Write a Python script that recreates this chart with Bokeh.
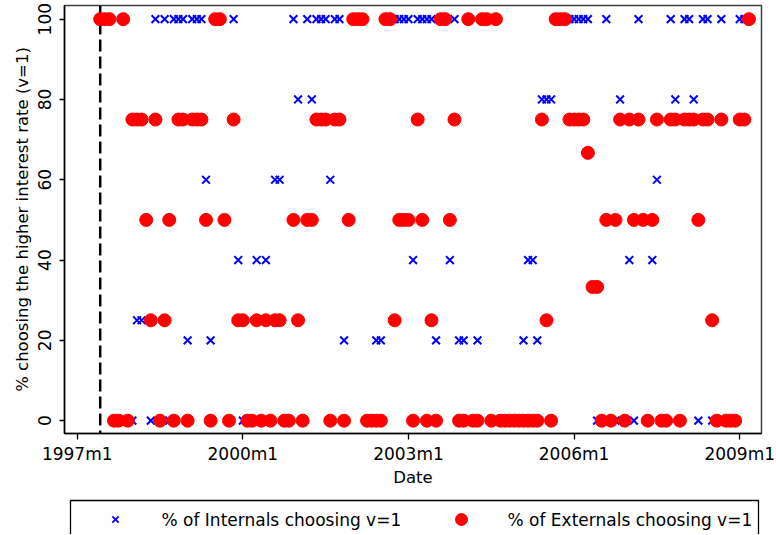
from bokeh.plotting import figure
from bokeh.models import FixedTicker, Span, Range1d
from bokeh.layouts import column
from bokeh.embed import file_html
from bokeh.resources import INLINE
from bokeh.core.properties import value

# ---------------- data (monthly, Stata %tm style dates) ----------------
dates = [
    "1997m6", "1997m7", "1997m8", "1997m9", "1997m10", "1997m11", "1997m12",
    "1998m1", "1998m2", "1998m3", "1998m4", "1998m5", "1998m6", "1998m7", "1998m8", "1998m9", "1998m10", "1998m11", "1998m12",
    "1999m1", "1999m2", "1999m3", "1999m4", "1999m5", "1999m6", "1999m7", "1999m8", "1999m9", "1999m10", "1999m11", "1999m12",
    "2000m1", "2000m2", "2000m3", "2000m4", "2000m5", "2000m6", "2000m7", "2000m8", "2000m9", "2000m10", "2000m11", "2000m12",
    "2001m1", "2001m2", "2001m3", "2001m4", "2001m5", "2001m6", "2001m7", "2001m8", "2001m9", "2001m10", "2001m11", "2001m12",
    "2002m1", "2002m2", "2002m3", "2002m4", "2002m5", "2002m6", "2002m7", "2002m8", "2002m9", "2002m10", "2002m11", "2002m12",
    "2003m1", "2003m2", "2003m3", "2003m4", "2003m5", "2003m6", "2003m7", "2003m8", "2003m9", "2003m10", "2003m11", "2003m12",
    "2004m1", "2004m2", "2004m3", "2004m4", "2004m5", "2004m6", "2004m7", "2004m8", "2004m9", "2004m10", "2004m11", "2004m12",
    "2005m1", "2005m2", "2005m3", "2005m4", "2005m5", "2005m6", "2005m7", "2005m8", "2005m9", "2005m10", "2005m11", "2005m12",
    "2006m1", "2006m2", "2006m3", "2006m4", "2006m5", "2006m6", "2006m7", "2006m8", "2006m9", "2006m10", "2006m11", "2006m12",
    "2007m1", "2007m2", "2007m3", "2007m4", "2007m5", "2007m6", "2007m7", "2007m8", "2007m9", "2007m10", "2007m11", "2007m12",
    "2008m1", "2008m2", "2008m3", "2008m4", "2008m5", "2008m6", "2008m7", "2008m8", "2008m9", "2008m10", "2008m11", "2008m12",
    "2009m1", "2009m2", "2009m3",
]

N = None
# % of Internals choosing v=1 (None = not visible / no observation)
internal_pct = [
    100, 100, 100, 0, 0, 100, 0,
    0, 25, 25, 50, 0, 100, 0, 100, 0, 100, 100, 100,
    20, 100, 100, 100, 60, 20, 100, 100, N, 0, 100, 40,
    0, 0, 0, 40, 0, 40, 0, 60, 60, 0, 0, 100,
    80, 0, 100, 80, 100, 100, 100, 60, 100, 100, 20, N,
    100, 100, 100, 0, 0, 20, 20, 100, 100, 100, 100, 100,
    100, 40, 100, 100, 100, 100, 20, 100, 100, 40, 100, 20,
    20, 100, 0, 20, 100, 100, 0, 100, 0, 0, 0, 0,
    0, 20, 40, 40, 20, 80, 80, 80, 100, 100, 100, 100,
    100, 100, 100, 100, N, 0, 0, 100, 0, 0, 80, 0,
    40, 0, 100, N, 0, 40, 60, 0, 0, 100, 80, 0,
    100, 100, 80, 0, 100, 100, 0, 0, 100, 0, 0, 0,
    100, 100, 100,
]

# % of Externals choosing v=1
external_pct = [
    100, 100, 100, 0, 0, 100, 0,
    75, 75, 75, 50, 25, 75, 0, 25, 50, 0, 75, 75,
    0, 75, 75, 75, 50, 0, 100, 100, 50, 0, 75, 25,
    25, 0, 0, 25, 0, 25, 0, 25, 25, 0, 0, 50,
    25, 0, 50, 50, 75, 75, 75, 0, 75, 75, 0, 50,
    100, 100, 100, 0, 0, 0, 0, 100, 100, 25, 50, 50,
    50, 0, 75, 50, 0, 25, 0, 100, 100, 50, 75, 0,
    0, 100, 0, 0, 100, 100, 0, 100, 0, 0, 0, 0,
    0, 0, 0, 0, 0, 75, 25, 0, 100, 100, 100, 75,
    75, 75, 75, 66.7, 33.3, 33.3, 0, 50, 0, 50, 75, 0,
    75, 50, 75, 50, 0, 50, 75, 0, 0, 75, 75, 0,
    75, 75, 75, 50, 75, 75, 25, 0, 75, 0, 0, 0,
    75, 75, 100,
]

policy_start = "1997m6"
x_ticks = ["1997m1", "2000m1", "2003m1", "2006m1", "2009m1"]
y_ticks = [0, 20, 40, 60, 80, 100]
legend_labels = ["% of Internals choosing v=1", "% of Externals choosing v=1"]

# ---------------- helpers ----------------
def tm(s):
    """Months since 1997m1 from a Stata-like 'YYYYmM' string."""
    y, m = s.split("m")
    return (int(y) - 1997) * 12 + int(m) - 1

xi = [tm(d) for d, v in zip(dates, internal_pct) if v is not None]
yi = [v for v in internal_pct if v is not None]
xe = [tm(d) for d in dates]
ye = external_pct

FONT = "DejaVu Sans"
FS = "17px"
TS = "16.5px"
BLUE = "#0000ff"
RED = "#ff0000"

p = figure(frame_width=697, frame_height=428, output_backend="svg", toolbar_location=None,
           x_range=Range1d(-2.76, 148.73), y_range=Range1d(-3.2, 103.4),
           min_border_left=64, min_border_right=14, min_border_top=5, min_border_bottom=59,
           background_fill_color="white", border_fill_color="white")
p.outline_line_color = "#404040"
p.outline_line_width = 1.5
p.grid.visible = False

p.add_layout(Span(location=tm(policy_start), dimension="height", line_color="black",
                  line_width=2.5, line_dash="12 5", level="underlay"))

p.scatter(xi, yi, marker="x", size=11, line_color=BLUE, line_width=2)
p.scatter(xe, ye, marker="circle", size=13, fill_color=RED, line_color=RED)

# axes
p.xaxis.ticker = FixedTicker(ticks=[tm(t) for t in x_ticks])
p.xaxis.major_label_overrides = {tm(t): t for t in x_ticks}
p.yaxis.ticker = FixedTicker(ticks=y_ticks)
p.yaxis.major_label_orientation = "vertical"
p.xaxis.axis_label = "Date"
p.yaxis.axis_label = "% choosing the higher interest rate (v=1)"
for ax in (p.xaxis, p.yaxis):
    ax.axis_line_color = "black"
    ax.axis_line_width = 1.5
    ax.major_tick_line_color = "black"
    ax.major_tick_line_width = 1.3
    ax.major_tick_in = 0
    ax.minor_tick_line_color = None
    ax.major_label_text_font = FONT
    ax.major_label_text_font_size = FS
    ax.major_label_text_color = "black"
    ax.axis_label_text_font = FONT
    ax.axis_label_text_font_size = TS
    ax.axis_label_text_font_style = "normal"
    ax.axis_label_text_color = "black"
p.xaxis.major_tick_out = 6
p.yaxis.major_tick_out = 5
p.xaxis.major_label_standoff = 4
p.yaxis.major_label_standoff = 8
p.xaxis.axis_label_standoff = 1
p.yaxis.axis_label_standoff = 4

# ---------------- legend strip (frame aligned with the plot frame; x in page pixels) ----------------
lg = figure(frame_width=697, frame_height=42, output_backend="svg", toolbar_location=None,
            x_range=Range1d(64, 761), y_range=Range1d(1, 43),
            x_axis_location=None, y_axis_location=None,
            min_border_left=64, min_border_right=14, min_border_top=0, min_border_bottom=0,
            background_fill_color="white", border_fill_color="white")
lg.outline_line_color = None
lg.grid.visible = False
lg.quad(left=70, right=758, bottom=-6, top=35, fill_color=None,
        line_color="black", line_width=1.3)
lg.scatter([115], [16], marker="x", size=9, line_color=BLUE, line_width=1.8)
lg.scatter([461], [16], marker="circle", size=12, fill_color=RED, line_color=RED)
lg.text(x=[161, 507], y=[16, 16], text=legend_labels,
        text_baseline="middle", text_align="left",
        text_font=value(FONT), text_font_size=FS, text_color="black")

layout = column(p, lg, spacing=0)
open("out.html", "w").write(file_html(layout, INLINE))
